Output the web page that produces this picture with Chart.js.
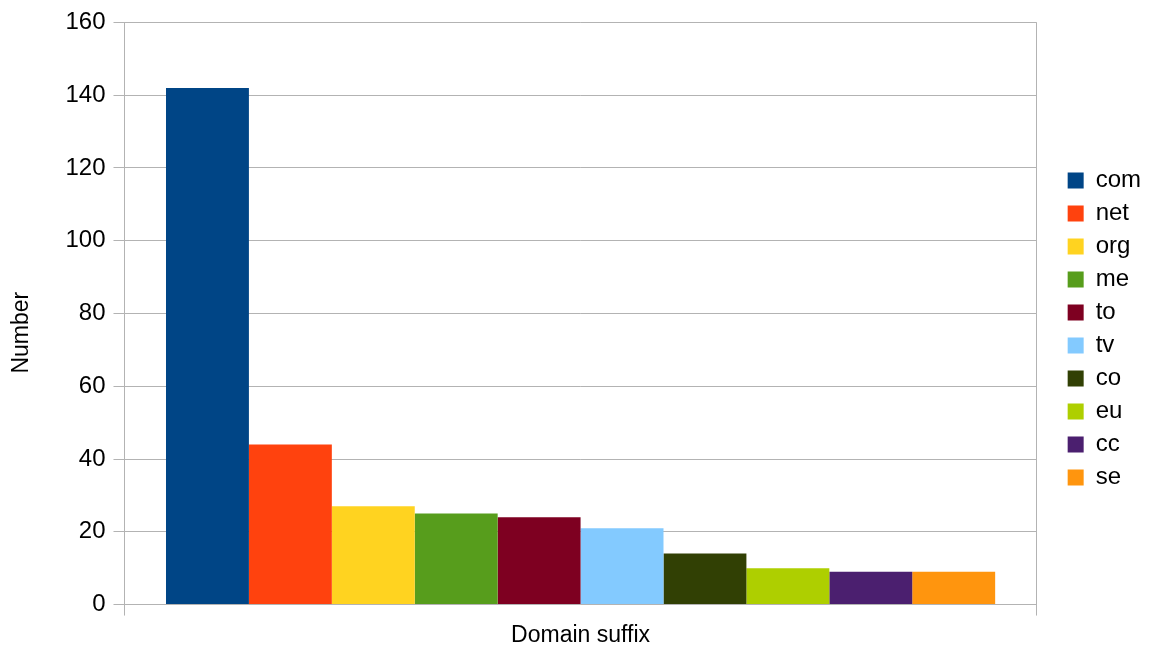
<!DOCTYPE html>
<html>
<head>
<meta charset="utf-8">
<script src="https://cdn.jsdelivr.net/npm/chart.js@4/dist/chart.umd.min.js"></script>
<style>
  html, body { margin: 0; padding: 0; background: #fff; }
  #wrap { width: 1149px; height: 649px; }
</style>
</head>
<body>
<div id="wrap"><canvas id="myChart"></canvas></div>
<script>
const suffixes = ['com', 'net', 'org', 'me', 'to', 'tv', 'co', 'eu', 'cc', 'se'];
const counts = [142, 44, 27, 25, 24, 21, 14, 10, 9, 9];
const colors = ['#004586', '#ff420e', '#ffd320', '#579d1c', '#7e0021',
                '#83caff', '#314004', '#aecf00', '#4b1f6f', '#ff950e'];
const yTicks = [0, 20, 40, 60, 80, 100, 120, 140, 160];

const family = '"Liberation Sans", Arial, sans-serif';
const titleFont = { family: family, size: 23, lineHeight: 1.15 };
const gridColor = '#b3b3b3';

const ctx = document.getElementById('myChart').getContext('2d');

const myChart = new Chart(ctx, {
    type: 'bar',
    data: {
        labels: [''], // one category, one dataset per suffix
        datasets: suffixes.map((s, i) => ({
            label: s,
            data: [counts[i]],
            backgroundColor: colors[i],
            borderWidth: 0
        }))
    },
    options: {
        responsive: true,
        maintainAspectRatio: false,
        animation: false,
        layout: { padding: { top: 9, right: -2, bottom: 0, left: 0 } },
        datasets: {
            bar: { categoryPercentage: 0.909, barPercentage: 1 }
        },
        plugins: {
            legend: {
                position: 'right',
                labels: {
                    boxWidth: 16,
                    boxHeight: 16,
                    padding: 9,
                    color: '#000',
                    font: { family: family, size: 24 }
                }
            },
            tooltip: { enabled: false }
        },
        scales: {
            x: {
                grid: { color: gridColor, offset: true, tickLength: 11, drawTicks: true },
                border: { color: gridColor },
                ticks: { display: false },
                title: {
                    display: true,
                    text: 'Domain suffix',
                    color: '#000',
                    font: titleFont,
                    padding: { top: 7, bottom: 0 }
                }
            },
            y: {
                min: 0,
                max: 160,
                afterBuildTicks: (scale) => { scale.ticks = yTicks.map(v => ({ value: v })); },
                grid: { color: gridColor, tickLength: 11, drawTicks: true },
                border: { color: gridColor },
                ticks: { color: '#000', font: { family: family, size: 24 }, padding: 8 },
                title: {
                    display: true,
                    // trailing spaces push the rotated title a little lower, as in the original
                    text: 'Number\u00a0\u00a0\u00a0\u00a0\u00a0\u00a0',
                    color: '#000',
                    font: titleFont,
                    padding: { top: 8, bottom: 23 }
                }
            },
            gap: {
                // empty right axis, only keeps the gap between plot and legend
                position: 'right',
                display: true,
                grid: { display: false },
                border: { display: false },
                ticks: { display: false },
                afterFit: (scale) => { scale.width = 22; }
            }
        }
    }
});
</script>
</body>
</html>
